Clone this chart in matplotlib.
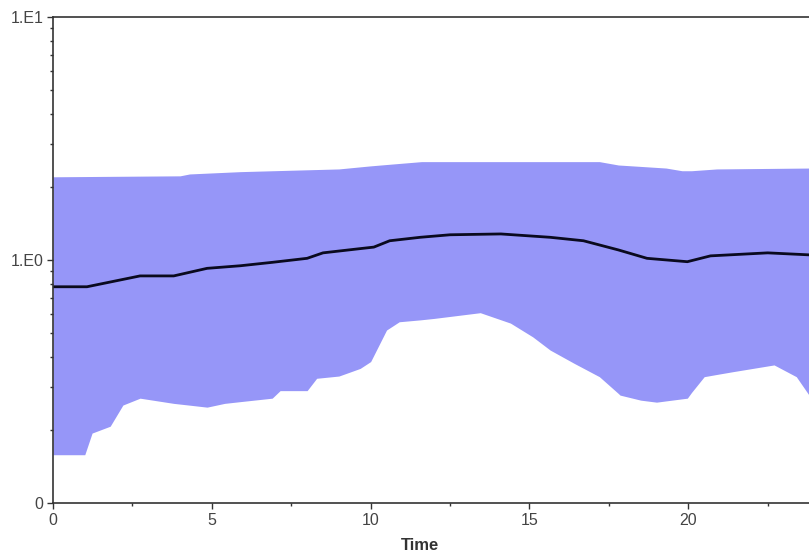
import numpy as np
import matplotlib.pyplot as plt
from matplotlib.ticker import LogLocator, FixedLocator, NullFormatter

plt.rcParams['font.family'] = ['Liberation Sans', 'DejaVu Sans']

# upper 95% HPD bound
upper_t = [0, 4.0, 4.3, 5.9, 9.0, 10.0, 11.6, 17.2, 17.8, 19.3, 19.8, 20.1, 20.9, 23.8]
upper_v = [2.20, 2.22, 2.26, 2.31, 2.37, 2.44, 2.54, 2.54, 2.46, 2.39, 2.33, 2.33, 2.37, 2.39]

# median
median_t = [0, 1.07, 2.74, 3.8, 4.85, 5.9, 6.9, 8.0, 8.5, 9.57, 10.1, 10.6, 11.56,
            12.5, 14.1, 15.65, 16.7, 17.8, 18.7, 19.97, 20.7, 22.5, 23.8]
median_v = [0.776, 0.776, 0.86, 0.86, 0.924, 0.947, 0.978, 1.016, 1.07, 1.11, 1.13, 1.20, 1.24,
            1.27, 1.28, 1.24, 1.20, 1.10, 1.016, 0.984, 1.04, 1.07, 1.05]

# lower 95% HPD bound
lower_t = [0, 1.0, 1.23, 1.8, 2.2, 2.74, 3.8, 4.85, 5.4, 6.9, 7.15, 8.0, 8.3, 9.0, 9.67,
           10.0, 10.5, 10.9, 11.56, 12.0, 13.45, 14.4, 15.1, 15.65, 16.4, 17.2, 17.85,
           18.5, 19.0, 19.97, 20.5, 21.4, 22.7, 23.4, 23.8]
lower_v = [0.158, 0.158, 0.194, 0.207, 0.253, 0.27, 0.257, 0.248, 0.257, 0.27, 0.29, 0.29,
           0.326, 0.333, 0.358, 0.382, 0.515, 0.557, 0.567, 0.575, 0.607, 0.55, 0.483, 0.426,
           0.376, 0.331, 0.278, 0.265, 0.26, 0.27, 0.331, 0.347, 0.37, 0.331, 0.278]

# common grid so fill_between can use both bounds
grid = np.union1d(upper_t, lower_t)
up = np.interp(grid, upper_t, upper_v)
lo = np.interp(grid, lower_t, lower_v)

fig = plt.figure(figsize=(8.09, 5.57), dpi=100)
ax = fig.add_axes([53 / 809, 54 / 557, 1 - 53 / 809, (503 - 17) / 557])

ax.fill_between(grid, lo, up, color='#9696f8', linewidth=0)
ax.plot(median_t, median_v, color='#0a0a1e', linewidth=2)

ax.set_yscale('log')
ax.set_ylim(0.1, 10)
ax.set_xlim(0, 23.8)

ax.yaxis.set_major_locator(FixedLocator([0.1, 1, 10]))
ax.set_yticklabels(['0', '1.E0', '1.E1'])
ax.yaxis.set_minor_locator(LogLocator(base=10, subs=np.arange(2, 10)))
ax.yaxis.set_minor_formatter(NullFormatter())

ax.set_xticks([0, 5, 10, 15, 20])
ax.set_xticks([2.5, 7.5, 12.5, 17.5, 22.5], minor=True)

for s in ['left', 'bottom', 'top']:
    ax.spines[s].set_color('#333333')
    ax.spines[s].set_linewidth(1.2)
ax.spines['right'].set_visible(False)

ax.tick_params(which='major', length=4, width=1, colors='#333333', labelsize=11.5,
               labelcolor='#444444', pad=3)
ax.tick_params(which='minor', length=2.5, width=1, colors='#333333')

ax.set_xlabel('Time', fontsize=12, fontweight='bold', color='#333333')
ax.xaxis.set_label_coords((420 - 53) / 756, -0.072)

fig.savefig('out.png', dpi=100)
